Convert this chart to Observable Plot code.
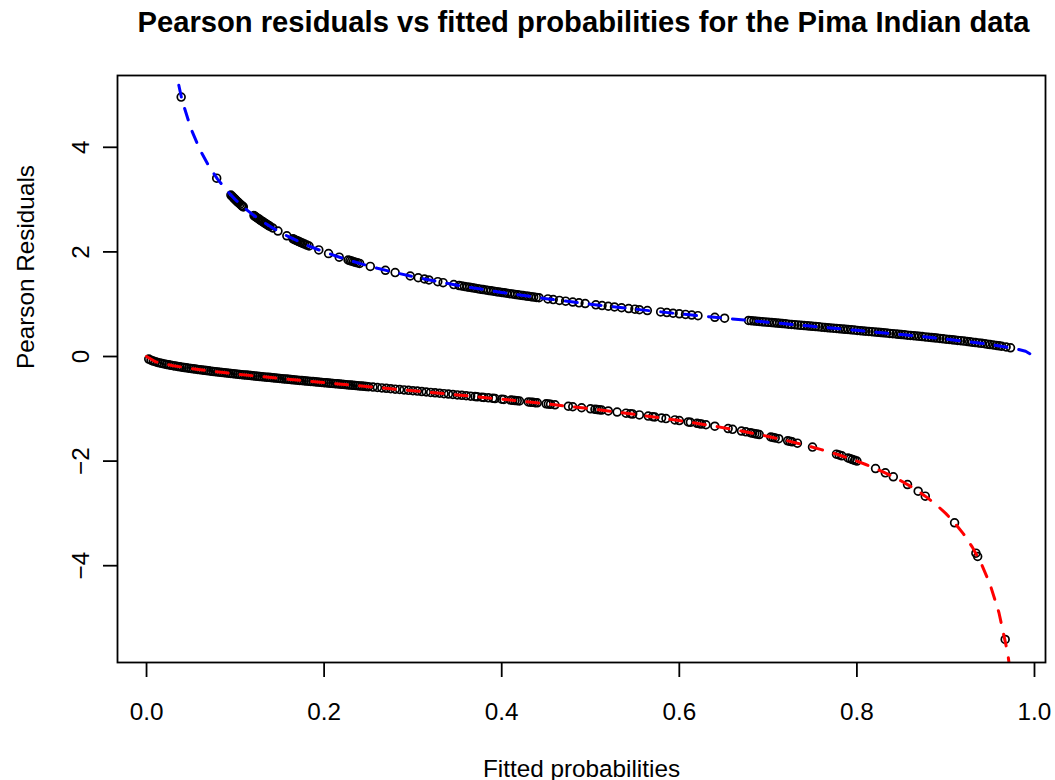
<!DOCTYPE html>
<html><head><meta charset="utf-8">
<script src="https://cdn.jsdelivr.net/npm/d3@7"></script>
<script src="https://cdn.jsdelivr.net/npm/@observablehq/plot@0.6"></script>
<style>body{margin:0;background:#fff;}</style>
</head><body><div id="chart"></div>
<script>
const titleText = "Pearson residuals vs fitted probabilities for the Pima Indian data";
const xLabel = "Fitted probabilities";
const yLabel = "Pearson Residuals";
const xTicks = [0, 0.2, 0.4, 0.6, 0.8, 1.0];
const yTicks = [-4, -2, 0, 2, 4];

// observed = 1 (upper branch)
const blueP = [0.039,0.079,0.095,0.098,0.100,0.102,0.104,0.107,0.109,0.121,0.124,0.127,0.130,0.133,0.136,0.139,0.142,0.148,0.158,0.165,0.168,0.171,0.174,0.178,0.183,0.194,0.205,0.217,0.227,0.231,0.235,0.240,0.252,0.269,0.280,0.297,0.306,0.313,0.318,0.328,0.334,0.346,0.352,0.358,0.364,0.370,0.376,0.382,0.388,0.394,0.400,0.406,0.412,0.418,0.424,0.430,0.436,0.442,0.452,0.458,0.465,0.472,0.480,0.487,0.494,0.506,0.513,0.520,0.527,0.535,0.543,0.550,0.555,0.564,0.579,0.586,0.593,0.600,0.607,0.614,0.621,0.640,0.651,0.678,0.684,0.690,0.697,0.704,0.710,0.716,0.723,0.730,0.737,0.744,0.750,0.757,0.764,0.770,0.777,0.784,0.790,0.797,0.804,0.810,0.817,0.824,0.830,0.837,0.844,0.850,0.857,0.864,0.870,0.877,0.884,0.890,0.897,0.904,0.910,0.917,0.924,0.930,0.937,0.944,0.950,0.957,0.963,0.968,0.973];
const blueR = [4.96,3.41,3.086,3.034,3.000,2.967,2.935,2.889,2.859,2.695,2.658,2.622,2.587,2.553,2.520,2.489,2.458,2.399,2.308,2.250,2.225,2.202,2.179,2.149,2.113,2.038,1.969,1.900,1.845,1.825,1.804,1.780,1.723,1.648,1.604,1.539,1.506,1.482,1.464,1.431,1.412,1.375,1.357,1.339,1.322,1.305,1.288,1.272,1.256,1.240,1.225,1.210,1.195,1.180,1.166,1.151,1.137,1.124,1.101,1.088,1.073,1.058,1.041,1.026,1.012,0.988,0.974,0.961,0.947,0.932,0.917,0.905,0.895,0.879,0.853,0.840,0.828,0.816,0.805,0.793,0.781,0.750,0.732,0.689,0.680,0.670,0.659,0.648,0.639,0.630,0.619,0.608,0.597,0.587,0.577,0.567,0.556,0.547,0.536,0.525,0.516,0.505,0.494,0.484,0.473,0.462,0.453,0.441,0.430,0.420,0.408,0.397,0.387,0.375,0.362,0.352,0.339,0.326,0.314,0.301,0.287,0.274,0.259,0.244,0.229,0.212,0.196,0.182,0.167];
// more observed = 1 points inside the dense clusters
const blueDenseP = [0.0965,0.099,0.101,0.103,0.1055,0.108,0.1225,0.1255,0.1285,0.1315,0.1345,0.1375,0.1665,0.1695,0.1725,0.176,0.1805,0.229,0.233,0.2375,0.355,0.361,0.367,0.373,0.379,0.385,0.391,0.397,0.403,0.409,0.415,0.421,0.427,0.433,0.439,0.681,0.687,0.6935,0.7005,0.707,0.713,0.7195,0.7265,0.7335,0.7405,0.747,0.7535,0.7605,0.767,0.7735,0.7805,0.787,0.7935,0.8005,0.807,0.8135,0.8205,0.827,0.8335,0.8405,0.847,0.8535,0.8605,0.867,0.8735,0.8805,0.887,0.8935,0.9005,0.907,0.9135,0.9205,0.927,0.9335,0.9405,0.947,0.9535,0.960];
const blueDenseR = [3.060,3.017,2.983,2.951,2.912,2.874,2.676,2.640,2.604,2.570,2.536,2.504,2.237,2.213,2.190,2.164,2.131,1.835,1.814,1.792,1.348,1.330,1.313,1.296,1.280,1.264,1.248,1.232,1.217,1.202,1.187,1.173,1.158,1.144,1.130,0.684,0.675,0.664,0.653,0.643,0.634,0.624,0.613,0.602,0.592,0.582,0.572,0.561,0.551,0.541,0.530,0.520,0.510,0.499,0.489,0.478,0.467,0.457,0.447,0.435,0.425,0.414,0.402,0.392,0.381,0.368,0.357,0.345,0.332,0.320,0.307,0.294,0.280,0.266,0.251,0.236,0.220,0.204];

// observed = 0 (lower branch)
const redP = [0.005,0.010,0.015,0.020,0.025,0.030,0.035,0.040,0.045,0.050,0.055,0.060,0.065,0.070,0.075,0.080,0.085,0.090,0.095,0.100,0.105,0.110,0.115,0.120,0.125,0.130,0.135,0.140,0.145,0.150,0.155,0.160,0.165,0.170,0.175,0.180,0.185,0.190,0.195,0.200,0.205,0.210,0.215,0.220,0.230,0.235,0.240,0.250,0.260,0.265,0.270,0.280,0.290,0.295,0.300,0.310,0.320,0.325,0.330,0.340,0.350,0.355,0.360,0.365,0.370,0.380,0.385,0.390,0.400,0.410,0.415,0.420,0.430,0.435,0.440,0.450,0.455,0.460,0.475,0.480,0.490,0.500,0.505,0.510,0.520,0.530,0.540,0.545,0.555,0.565,0.570,0.580,0.585,0.595,0.600,0.610,0.620,0.625,0.630,0.640,0.655,0.660,0.670,0.675,0.680,0.685,0.690,0.703,0.708,0.712,0.722,0.727,0.733,0.750,0.777,0.783,0.790,0.795,0.800,0.821,0.832,0.841,0.857,0.869,0.877,0.910,0.934,0.936,0.967];
const redR = [-0.071,-0.100,-0.123,-0.143,-0.160,-0.176,-0.190,-0.204,-0.217,-0.229,-0.241,-0.253,-0.264,-0.274,-0.285,-0.295,-0.305,-0.314,-0.324,-0.333,-0.343,-0.352,-0.360,-0.369,-0.378,-0.387,-0.395,-0.403,-0.412,-0.420,-0.428,-0.436,-0.445,-0.453,-0.461,-0.469,-0.476,-0.484,-0.492,-0.500,-0.508,-0.516,-0.523,-0.531,-0.547,-0.554,-0.562,-0.577,-0.593,-0.600,-0.608,-0.624,-0.639,-0.647,-0.655,-0.670,-0.686,-0.694,-0.702,-0.718,-0.734,-0.742,-0.750,-0.758,-0.766,-0.783,-0.791,-0.800,-0.816,-0.834,-0.842,-0.851,-0.869,-0.877,-0.886,-0.905,-0.914,-0.923,-0.951,-0.961,-0.980,-1.000,-1.010,-1.020,-1.041,-1.062,-1.083,-1.094,-1.117,-1.140,-1.151,-1.175,-1.187,-1.212,-1.225,-1.251,-1.277,-1.291,-1.305,-1.333,-1.378,-1.393,-1.425,-1.441,-1.458,-1.475,-1.492,-1.539,-1.557,-1.572,-1.612,-1.632,-1.657,-1.732,-1.867,-1.900,-1.940,-1.970,-2.000,-2.142,-2.225,-2.300,-2.448,-2.576,-2.670,-3.180,-3.760,-3.824,-5.410];
// more observed = 0 points inside the dense band
const redDenseP = [0.0025,0.0075,0.0125,0.0175,0.0225,0.0275,0.0325,0.0375,0.0425,0.0475,0.0525,0.0575,0.0625,0.0675,0.0725,0.0775,0.0825,0.0875,0.0925,0.0975,0.1025,0.1075,0.1125,0.1175,0.1225,0.1275,0.1325,0.1375,0.1425,0.1475,0.1525,0.1575,0.1625,0.1675,0.1725,0.1775,0.1825,0.1875,0.1925,0.1975,0.2025,0.2075,0.2125,0.2175,0.2225,0.225,0.2275,0.2325,0.2375,0.2425,0.245,0.2475,0.255,0.275,0.285,0.305,0.315,0.335,0.345,0.3725,0.3775,0.3925,0.4025,0.4125,0.4175,0.4325,0.4375,0.4525,0.5075,0.5125,0.5475,0.5725,0.6125,0.6225,0.6825,0.6875,0.7055,0.7245,0.780,0.7925,0.7975];
const redDenseR = [-0.050,-0.087,-0.113,-0.134,-0.152,-0.168,-0.183,-0.197,-0.211,-0.223,-0.235,-0.247,-0.258,-0.269,-0.280,-0.290,-0.300,-0.310,-0.319,-0.329,-0.338,-0.348,-0.356,-0.365,-0.374,-0.383,-0.391,-0.399,-0.408,-0.416,-0.424,-0.432,-0.441,-0.449,-0.457,-0.465,-0.473,-0.480,-0.488,-0.496,-0.504,-0.512,-0.520,-0.527,-0.535,-0.539,-0.543,-0.551,-0.558,-0.566,-0.570,-0.574,-0.585,-0.616,-0.631,-0.662,-0.678,-0.710,-0.726,-0.770,-0.779,-0.804,-0.820,-0.838,-0.846,-0.873,-0.882,-0.909,-1.015,-1.025,-1.100,-1.157,-1.258,-1.284,-1.466,-1.484,-1.548,-1.622,-1.883,-1.955,-1.985];

// dashed reference curves (as drawn)
const blueCurveP = [0.02,0.03,0.04,0.05,0.06,0.07,0.08,0.09,0.10,0.11,0.12,0.13,0.14,0.15,0.16,0.17,0.18,0.19,0.20,0.22,0.24,0.26,0.28,0.30,0.33,0.36,0.40,0.45,0.50,0.55,0.60,0.65,0.70,0.75,0.80,0.85,0.90,0.93,0.95,0.97,0.98,0.99,1.00];
const blueCurveR = [7.000,5.686,4.899,4.359,3.958,3.645,3.391,3.180,3.000,2.844,2.708,2.587,2.479,2.380,2.291,2.210,2.134,2.065,2.000,1.883,1.780,1.687,1.604,1.528,1.425,1.333,1.225,1.106,1.000,0.905,0.816,0.734,0.655,0.577,0.500,0.420,0.333,0.274,0.229,0.176,0.143,0.100,0.000];
const redCurveP = [0,0.01,0.02,0.03,0.05,0.07,0.10,0.15,0.20,0.25,0.30,0.35,0.40,0.45,0.50,0.55,0.60,0.64,0.67,0.70,0.72,0.74,0.76,0.78,0.80,0.81,0.82,0.83,0.84,0.85,0.86,0.87,0.88,0.89,0.90,0.91,0.92,0.93,0.94,0.95,0.96,0.97,0.98];
const redCurveR = [0,-0.100,-0.143,-0.176,-0.229,-0.274,-0.333,-0.420,-0.500,-0.577,-0.655,-0.734,-0.816,-0.905,-1.000,-1.106,-1.225,-1.333,-1.425,-1.528,-1.604,-1.687,-1.780,-1.883,-2.000,-2.065,-2.134,-2.210,-2.291,-2.380,-2.479,-2.587,-2.708,-2.844,-3.000,-3.180,-3.391,-3.645,-3.958,-4.359,-4.899,-5.686,-7.000];

const pair = (P, R) => P.map((p, i) => ({p, r: R[i]}));
const pts = [
  ...pair(blueP, blueR), ...pair(blueDenseP, blueDenseR),
  ...pair(redP, redR), ...pair(redDenseP, redDenseR)
];
const blueCurve = pair(blueCurveP, blueCurveR);
const redCurve = pair(redCurveP, redCurveR);

const FS = 24.3;
const chart = Plot.plot({
  width: 1055, height: 780,
  marginLeft: 117, marginRight: 10, marginTop: 75, marginBottom: 118,
  style: {fontFamily: "'Liberation Sans', Arial, Helvetica, sans-serif", background: "white", color: "black"},
  x: {domain: [-0.0327, 1.0124]},
  y: {domain: [-5.851, 5.373]},
  marks: [
    Plot.dot(pts, {x: "p", y: "r", r: 3.9, stroke: "black", strokeWidth: 1.7, fill: "none"}),
    Plot.line(blueCurve, {x: "p", y: "r", stroke: "#0000ff", strokeWidth: 3, strokeDasharray: "12,12", strokeLinecap: "round", clip: true}),
    Plot.line(redCurve, {x: "p", y: "r", stroke: "#ff0000", strokeWidth: 3, strokeDasharray: "12,12", strokeLinecap: "round", clip: true}),
    Plot.frame({stroke: "black", strokeWidth: 1.8}),
    Plot.axisX(xTicks, {tickSize: 15, tickPadding: 25, tickFormat: d3.format(".1f"), fontSize: FS, label: null, strokeWidth: 1.8}),
    Plot.axisY(yTicks, {tickSize: 14, tickPadding: 15, tickRotate: -90, tickFormat: d3.format("d"), fontSize: FS, label: null, strokeWidth: 1.8}),
    Plot.text([xLabel], {frameAnchor: "bottom", dy: 114, lineAnchor: "bottom", fontSize: FS}),
    Plot.text([yLabel], {frameAnchor: "left", dx: -84, rotate: -90, lineAnchor: "bottom", fontSize: FS}),
    Plot.text([titleText], {frameAnchor: "top", dy: -44, dx: 2, lineAnchor: "bottom", fontSize: 29.2, fontWeight: "bold"})
  ]
});
document.getElementById("chart").appendChild(chart);
</script>
</body></html>
